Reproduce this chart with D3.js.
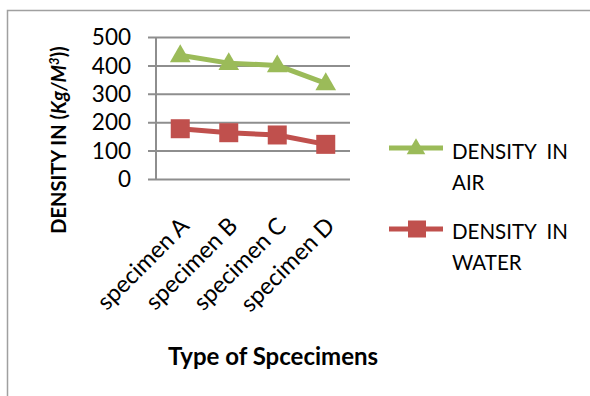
<!DOCTYPE html>
<html><head><meta charset="utf-8">
<script src="https://cdn.jsdelivr.net/npm/d3@7"></script>
<style>
html,body{margin:0;padding:0;background:#fff;}
svg{display:block;font-family:Lato, "Open Sans", sans-serif;}
</style></head>
<body>
<svg id="chart" width="590" height="396"></svg>
<script>
const categories = ["specimen A", "specimen B", "specimen C", "specimen D"];
const densityAir = [436, 408, 400, 337];
const densityWater = [177, 163, 155, 122];
const yTicks = [0, 100, 200, 300, 400, 500];
const seriesNames = [["DENSITY  IN", "AIR"], ["DENSITY  IN", "WATER"]];

const svg = d3.select("#chart");
const green = "#9BBB59", red = "#C0504D", grid = "#8E8E8E";

// outer chart border
svg.append("rect").attr("x", 7.5).attr("y", 10.5).attr("width", 700).attr("height", 500)
  .attr("fill", "none").attr("stroke", "#A0A0A0").attr("stroke-width", 1.5);

const plot = {left: 156, right: 350, top: 37, bottom: 179};
const x = d3.scaleBand().domain(categories).range([plot.left, plot.right]);
const y = d3.scaleLinear().domain([0, 500]).range([plot.bottom, plot.top]);

// gridlines with tick marks
const yAxis = d3.axisLeft(y).tickValues(yTicks).tickSize(-(plot.right - plot.left)).tickSizeOuter(0).tickFormat("");
const gy = svg.append("g").attr("transform", `translate(${plot.left},0)`).call(yAxis);
gy.select(".domain").remove();
gy.selectAll(".tick line").attr("stroke", grid).attr("stroke-width", 2).attr("x1", -8);
// y tick labels
svg.append("g").selectAll("text").data(yTicks).join("text")
  .attr("x", 131).attr("y", d => y(d)).attr("dy", "0.36em")
  .attr("text-anchor", "end").attr("font-size", 22.5).attr("fill", "#000")
  .text(d => d);
// vertical axis line
svg.append("line").attr("x1", plot.left).attr("x2", plot.left).attr("y1", plot.top).attr("y2", plot.bottom)
  .attr("stroke", grid).attr("stroke-width", 2);

// x labels rotated
svg.append("g").selectAll("text").data(categories).join("text")
  .attr("transform", d => `translate(${x(d) + x.bandwidth()/2 + 4},${221}) rotate(-45)`)
  .attr("text-anchor", "end").attr("dominant-baseline", "central")
  .attr("font-size", 23.5).attr("fill", "#000").text(d => d);

const cx = d => x(d) + x.bandwidth() / 2;
const line = d3.line().x((d, i) => cx(categories[i])).y(d => y(d));

// air series
svg.append("path").datum(densityAir).attr("d", line).attr("fill", "none")
  .attr("stroke", green).attr("stroke-width", 5).attr("stroke-linejoin", "round");
const tri = d3.symbol().type(d3.symbolTriangle).size(185);
svg.append("g").selectAll("path").data(densityAir).join("path")
  .attr("d", tri).attr("fill", green)
  .attr("transform", (d, i) => `translate(${cx(categories[i])},${y(d) + 1})`);

// water series
svg.append("path").datum(densityWater).attr("d", line).attr("fill", "none")
  .attr("stroke", red).attr("stroke-width", 5).attr("stroke-linejoin", "round");
svg.append("g").selectAll("rect").data(densityWater).join("rect")
  .attr("x", (d, i) => cx(categories[i]) - 9.5).attr("y", d => y(d) - 9.5)
  .attr("width", 19).attr("height", 19).attr("fill", red);

// legend
const leg = [{c: green, t: "tri", y: 148, ty: 159}, {c: red, t: "sq", y: 229, ty: 239}];
leg.forEach((L, k) => {
  const g = svg.append("g");
  g.append("line").attr("x1", 389).attr("x2", 443).attr("y1", L.y).attr("y2", L.y)
    .attr("stroke", L.c).attr("stroke-width", 5);
  if (L.t === "tri") {
    g.append("path").attr("d", d3.symbol().type(d3.symbolTriangle).size(150)())
      .attr("transform", `translate(416,${L.y + 1})`).attr("fill", L.c);
  } else {
    g.append("rect").attr("x", 408).attr("y", L.y - 8.5).attr("width", 18).attr("height", 17).attr("fill", L.c);
  }
  const t = g.append("text").attr("x", 452).attr("y", L.ty).attr("font-size", 20.5).attr("fill", "#000")
    .attr("xml:space", "preserve").style("white-space", "pre");
  t.append("tspan").attr("x", 452).text(seriesNames[k][0]);
  t.append("tspan").attr("x", 452).attr("dy", 31).text(seriesNames[k][1]);
});

// y axis title
const yt = svg.append("text").attr("transform", "translate(66,140) rotate(-90)")
  .attr("text-anchor", "middle").attr("font-size", 20).attr("font-weight", "bold").attr("fill", "#000");
yt.append("tspan").text("DENSITY IN (");
yt.append("tspan").attr("font-style", "italic").text("Kg/M");
yt.append("tspan").attr("font-style", "italic").attr("font-size", 13).attr("dy", -7).text("3");
yt.append("tspan").attr("dy", 7).text("))");

// x axis title
svg.append("text").attr("x", 273).attr("y", 365).attr("text-anchor", "middle")
  .attr("font-size", 24).attr("font-weight", "bold").attr("fill", "#000").text("Type of Spcecimens");
</script>
</body></html>
